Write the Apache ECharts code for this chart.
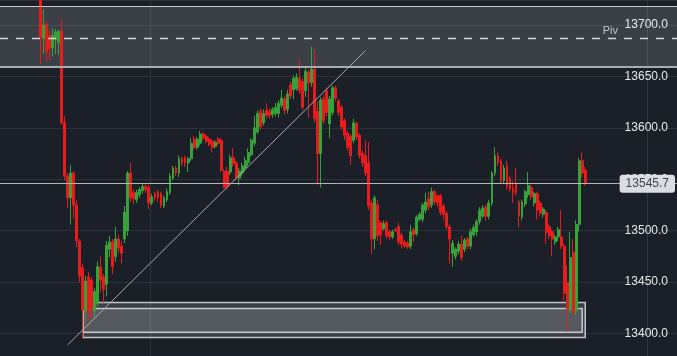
<!DOCTYPE html>
<html><head><meta charset="utf-8">
<script src="https://cdn.jsdelivr.net/npm/echarts/dist/echarts.min.js"></script>
<style>html,body{margin:0;padding:0;background:#1b2028;}#c{width:677px;height:356px;}</style>
</head><body><div id="c"></div>
<script>
// ---- data ----
const totalSlots = 225;          // category slots across the plot
const firstSlot = 13;            // slot of the first candle
// candles: [open, close, low, high]
const candles = [
[13728,13688,13662,13732],[13687,13700,13672,13715],[13701,13674,13664,13703],[13690,13677,13666,13695],
[13678,13690,13669,13697],[13686,13693,13672,13696],[13683,13694,13671,13695],[13694,13605,13603,13706],
[13605,13553,13549,13611],[13553,13532,13522,13556],[13532,13556,13506,13564],[13556,13525,13512,13558],
[13525,13490,13484,13530],[13490,13456,13450,13492],[13464,13423,13395,13468],[13422,13451,13412,13456],
[13455,13421,13412,13460],[13452,13424,13415,13455],[13422,13441,13415,13444],[13429,13465,13426,13470],
[13464,13452,13440,13475],[13455,13443,13430,13458],[13448,13486,13436,13490],[13482,13489,13474,13495],
[13489,13465,13458,13492],[13475,13492,13470,13504],[13492,13483,13478,13496],[13485,13478,13468,13490],
[13492,13518,13488,13524],[13500,13556,13495,13558],[13556,13532,13528,13566],[13537,13531,13526,13540],
[13530,13537,13527,13540],[13535,13540,13532,13542],[13539,13543,13536,13546],[13543,13540,13537,13545],
[13542,13527,13521,13545],[13527,13533,13525,13536],[13536,13532,13529,13538],[13538,13532,13528,13540],
[13536,13525,13522,13538],[13524,13532,13522,13534],[13530,13538,13528,13541],[13537,13553,13535,13556],
[13551,13561,13549,13563],[13561,13556,13553,13563],[13556,13570,13552,13573],[13570,13566,13563,13572],
[13571,13566,13562,13573],[13566,13570,13557,13572],[13570,13585,13568,13590],[13589,13581,13579,13592],
[13581,13589,13579,13591],[13585,13594,13583,13597],[13594,13590,13588,13596],[13592,13587,13585,13594],
[13589,13584,13582,13591],[13587,13581,13576,13589],[13582,13586,13580,13588],[13589,13585,13583,13591],
[13588,13559,13557,13590],[13558,13542,13541,13560],[13558,13543,13540,13562],[13557,13571,13554,13574],
[13571,13565,13562,13580],[13566,13552,13549,13568],[13551,13558,13544,13561],[13556,13563,13553,13566],
[13561,13568,13558,13572],[13566,13576,13563,13580],[13574,13588,13572,13590],[13585,13600,13582,13612],
[13596,13614,13594,13617],[13616,13601,13598,13619],[13605,13614,13602,13618],[13617,13612,13609,13624],
[13616,13612,13609,13619],[13613,13618,13610,13620],[13614,13620,13611,13624],[13614,13624,13610,13627],
[13622,13629,13619,13637],[13628,13617,13613,13631],[13618,13633,13614,13637],[13642,13631,13628,13645],
[13637,13648,13628,13651],[13638,13649,13636,13653],[13648,13636,13633,13667],[13645,13620,13617,13648],
[13636,13655,13630,13658],[13654,13644,13610,13657],[13644,13657,13640,13679],[13657,13609,13605,13676],
[13616,13575,13545,13626],[13575,13627,13542,13630],[13628,13607,13604,13632],[13636,13615,13611,13639],
[13604,13628,13590,13631],[13615,13639,13612,13641],[13639,13629,13626,13641],[13626,13615,13612,13628],
[13620,13601,13598,13622],[13607,13593,13588,13609],[13595,13581,13578,13597],[13592,13573,13564,13594],
[13588,13605,13585,13609],[13604,13591,13588,13606],[13593,13573,13570,13595],[13575,13566,13562,13578],
[13573,13556,13553,13588],[13566,13524,13520,13586],[13527,13492,13477,13530],[13492,13532,13482,13534],
[13525,13495,13490,13530],[13508,13496,13486,13510],[13502,13507,13500,13510],[13508,13495,13492,13510],
[13499,13494,13491,13501],[13494,13499,13492,13501],[13501,13500,13499,13503],[13504,13489,13486,13508],
[13496,13487,13483,13498],[13489,13485,13483,13491],[13488,13484,13482,13490],[13485,13499,13482,13506],
[13501,13496,13489,13503],[13497,13513,13495,13515],[13511,13516,13509,13518],[13511,13525,13508,13527],
[13520,13528,13517,13537],[13531,13523,13520,13538],[13525,13538,13522,13542],[13538,13528,13525,13540],
[13534,13527,13523,13536],[13534,13518,13515,13536],[13524,13516,13511,13526],[13517,13504,13501,13519],
[13504,13492,13468,13506],[13478,13488,13465,13491],[13475,13482,13472,13484],[13480,13487,13477,13490],
[13487,13474,13471,13495],[13482,13491,13479,13493],[13492,13485,13482,13494],[13485,13499,13482,13502],
[13496,13503,13494,13506],[13499,13509,13495,13511],[13509,13520,13506,13523],[13514,13522,13512,13525],
[13523,13514,13510,13525],[13514,13527,13511,13530],[13527,13556,13524,13558],[13556,13573,13553,13581],
[13573,13566,13563,13576],[13568,13548,13545,13570],[13549,13561,13546,13564],[13563,13543,13540,13568],
[13551,13541,13538,13553],[13541,13537,13527,13548],[13545,13537,13534,13561],[13528,13514,13503,13530],
[13513,13528,13510,13530],[13526,13538,13523,13540],[13535,13544,13532,13557],[13542,13533,13530,13545],
[13527,13536,13524,13538],[13536,13520,13511,13538],[13527,13517,13514,13529],[13516,13521,13513,13523],
[13518,13498,13487,13520],[13504,13495,13492,13506],[13499,13492,13475,13501],[13489,13494,13486,13496],
[13494,13501,13490,13504],[13494,13485,13482,13520],[13485,13439,13432,13487],[13450,13424,13402,13466],
[13424,13474,13420,13499],[13479,13421,13418,13492],[13422,13506,13418,13510],[13506,13568,13499,13571],
[13568,13556,13552,13576],[13559,13545.7,13544,13562]
];
const yRange = [13378.2, 13724.3];
const pivot = 13686.8;
const pivotLabel = 'Piv';
const pivotZone = [13659.0, 13718.3];
const lastPrice = 13545.7;
// [startSlot, endSlot, low, high]
const supportZones = [[27, 194, 13396.2, 13430.1], [27, 193, 13401.2, 13424.3]];
const trendLine = [[22, 13389.1], [121, 13675.2]];
const vGridSlots = [50, 215];

// ---- build ----
const UP = '#38a23a', DOWN = '#e81c1c';
const FONT = 'Liberation Sans, Arial, sans-serif';
const cats = [];
const seriesData = [];
for (let i = 0; i < totalSlots; i++) {
  cats.push(String(i));
  const k = i - firstSlot;
  seriesData.push(k >= 0 && k < candles.length ? candles[k] : '-');
}
const zoneStyle = {color: 'rgba(255,255,255,0.14)', borderColor: 'rgba(220,222,226,0.85)', borderWidth: 1.5};
const markAreaData = [
  [{yAxis: pivotZone[1], itemStyle: {color: 'rgba(255,255,255,0.14)', borderWidth: 0}}, {yAxis: pivotZone[0]}]
].concat(supportZones.map(z => [
  {coord: [z[0], z[3]], itemStyle: zoneStyle}, {coord: [z[1], z[2]]}
]));

const markLineData = [
  {yAxis: pivotZone[1], lineStyle: {color: '#c9cbce', width: 1.2, type: 'solid'}},
  {yAxis: pivotZone[0], lineStyle: {color: '#a9acb1', width: 2, type: 'solid'}},
  {yAxis: pivot, lineStyle: {color: '#d4d6d8', width: 1.3, type: [8, 8]},
   label: {show: true, formatter: pivotLabel, position: 'insideEndTop', distance: [59, 2],
           color: '#c4c8cd', fontSize: 11, fontFamily: FONT}},
  {yAxis: lastPrice, lineStyle: {color: '#b3b6ba', width: 1, type: 'solid'},
   label: {show: true, formatter: lastPrice.toFixed(1), position: 'insideEnd', distance: [2, 0],
           color: '#40454c', fontSize: 12, fontFamily: FONT, backgroundColor: '#dcdde0',
           padding: [3, 6, 3, 6], borderRadius: 3}},
  [{coord: trendLine[0], lineStyle: {color: '#a6aaaf', width: 1, type: 'solid'}}, {coord: trendLine[1]}]
];

const chart = echarts.init(document.getElementById('c'), null, {renderer: 'canvas'});
chart.setOption({
  animation: false,
  backgroundColor: '#1b2028',
  grid: {left: 0, right: 0, top: -2, bottom: -2},
  xAxis: {
    type: 'category', data: cats, boundaryGap: true,
    axisLine: {show: false}, axisTick: {show: false}, axisLabel: {show: false},
    splitLine: {show: true, interval: (idx) => vGridSlots.indexOf(idx) >= 0,
                lineStyle: {color: '#30353d', width: 1}}
  },
  yAxis: {
    type: 'value', position: 'right', min: yRange[0], max: yRange[1], scale: true,
    axisLine: {show: false}, axisTick: {show: false},
    axisLabel: {inside: true, margin: 9, color: '#e8e8e8', fontSize: 12, fontFamily: FONT,
                showMinLabel: false, showMaxLabel: false, formatter: v => v.toFixed(1)},
    splitLine: {show: true, lineStyle: {color: '#2e333b', width: 1}}
  },
  series: [{
    type: 'candlestick',
    data: seriesData,
    barWidth: 2.4,
    itemStyle: {color: UP, color0: DOWN, borderColor: UP, borderColor0: DOWN, borderWidth: 1},
    markArea: {silent: true, data: markAreaData},
    markLine: {silent: true, symbol: ['none', 'none'], label: {show: false}, data: markLineData}
  }]
});
</script></body></html>
